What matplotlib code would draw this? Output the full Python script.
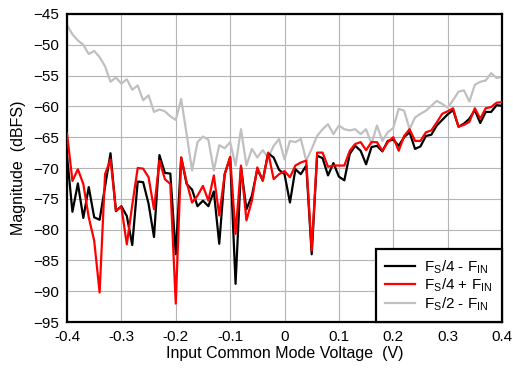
import numpy as np
import matplotlib
matplotlib.use("Agg")
import matplotlib.pyplot as plt

plt.rcParams['font.family'] = ['Liberation Sans', 'DejaVu Sans']

# input common mode voltage, 0.01 V steps
vcm = np.round(np.arange(-0.40, 0.401, 0.01), 2)

# Fs/4 - Fin
fs4_minus = [-68.0, -77.1, -72.5, -78.1, -73.1, -78.0, -78.4, -73.0, -67.6, -77.0,
             -76.2, -77.8, -82.5, -72.2, -72.3, -75.8, -81.2, -67.9, -70.8, -70.9,
             -84.0, -68.3, -72.6, -73.5, -76.2, -75.3, -76.2, -73.8, -82.3, -71.0,
             -68.3, -88.8, -69.9, -76.7, -74.5, -70.2, -72.0, -67.6, -68.3, -70.3,
             -71.0, -75.6, -70.2, -71.0, -69.6, -84.0, -68.0, -68.4, -71.2, -69.2,
             -71.4, -72.0, -67.7, -66.4, -67.2, -69.4, -66.6, -66.4, -67.3, -65.6,
             -65.4, -66.4, -65.0, -64.2, -66.9, -66.5, -64.8, -64.6, -63.1, -62.2,
             -61.3, -60.6, -63.3, -62.8, -62.0, -60.6, -62.7, -60.9, -60.9, -59.8,
             -59.9]

# Fs/4 + Fin
fs4_plus = [-64.4, -72.1, -70.2, -72.6, -78.0, -81.8, -90.2, -71.0, -68.6, -76.9,
            -76.3, -82.4, -76.0, -70.0, -70.1, -71.5, -76.7, -68.8, -71.8, -72.6,
            -92.0, -68.3, -72.3, -75.6, -74.5, -72.9, -75.3, -71.2, -77.7, -71.0,
            -68.2, -80.7, -69.6, -78.5, -75.3, -69.9, -72.1, -67.5, -71.8, -71.0,
            -70.5, -71.5, -69.6, -69.1, -68.8, -83.4, -67.5, -67.5, -69.8, -69.6,
            -69.6, -69.6, -67.2, -66.1, -65.8, -67.1, -65.8, -65.8, -67.2, -65.8,
            -65.0, -67.2, -64.8, -63.7, -65.6, -65.6, -64.2, -63.9, -62.6, -61.2,
            -60.8, -60.3, -63.3, -63.0, -62.5, -60.3, -62.0, -60.3, -60.1, -59.4,
            -59.3]

# Fs/2 - Fin
fs2_minus = [-46.8, -48.3, -49.3, -50.0, -51.5, -51.0, -52.0, -53.5, -56.0, -55.3,
             -56.3, -55.6, -57.3, -56.6, -59.0, -58.2, -60.9, -60.5, -60.8, -61.6,
             -62.2, -58.8, -64.5, -70.4, -65.8, -64.9, -65.4, -70.4, -66.3, -66.8,
             -65.8, -69.6, -63.7, -69.6, -66.9, -68.3, -67.1, -68.3, -66.4, -65.3,
             -68.6, -65.6, -65.8, -65.3, -68.8, -66.9, -64.8, -63.7, -62.9, -64.5,
             -63.1, -63.7, -63.9, -63.7, -64.5, -63.7, -66.1, -63.1, -65.6, -64.2,
             -63.5, -60.4, -60.7, -63.7, -61.8, -61.2, -60.7, -59.9, -59.1, -59.6,
             -60.2, -59.0, -57.6, -57.4, -59.2, -56.5, -56.0, -55.8, -54.6, -55.4,
             -55.2]

xticks = [-0.4, -0.3, -0.2, -0.1, 0, 0.1, 0.2, 0.3, 0.4]
xticklabels = ['-0.4', '-0.3', '-0.2', '-0.1', '0', '0.1', '0.2', '0.3', '0.4']
yticks = list(range(-95, -44, 5))

fig = plt.figure(figsize=(5.13, 3.71), dpi=100)
ax = fig.add_axes([0.1306, 0.132, 0.848, 0.8303])

ax.plot(vcm, fs2_minus, color='#c0c0c0', lw=1.6, label=r'F$_\mathregular{S}$/2 - F$_\mathregular{IN}$', zorder=2)
ax.plot(vcm, fs4_minus, color='black', lw=1.6, label=r'F$_\mathregular{S}$/4 - F$_\mathregular{IN}$', zorder=3)
ax.plot(vcm, fs4_plus, color='#ff0000', lw=1.6, label=r'F$_\mathregular{S}$/4 + F$_\mathregular{IN}$', zorder=4)

ax.set_xlim(-0.4, 0.4)
ax.set_ylim(-95, -45)
ax.set_xticks(xticks)
ax.set_xticklabels(xticklabels)
ax.set_yticks(yticks)
ax.tick_params(length=0, labelsize=11, pad=6)
ax.grid(True, color='#b4b4b4', lw=0.8)
ax.set_axisbelow(True)
for s in ax.spines.values():
    s.set_linewidth(1.6)

ax.set_xlabel("Input Common Mode Voltage  (V)", fontsize=11.5, labelpad=1)
ax.set_ylabel("Magnitude  (dBFS)", fontsize=11.5, labelpad=5)

h, l = ax.get_legend_handles_labels()
order = [1, 2, 0]
leg = ax.legend([h[i] for i in order], [l[i] for i in order], loc='lower right',
                fontsize=11, fancybox=False, framealpha=1, edgecolor='black',
                borderaxespad=0, handlelength=2.0, handletextpad=0.6,
                labelspacing=0.05, borderpad=0.6)
leg.get_frame().set_linewidth(1.6)

fig.savefig("out.png", dpi=100)
